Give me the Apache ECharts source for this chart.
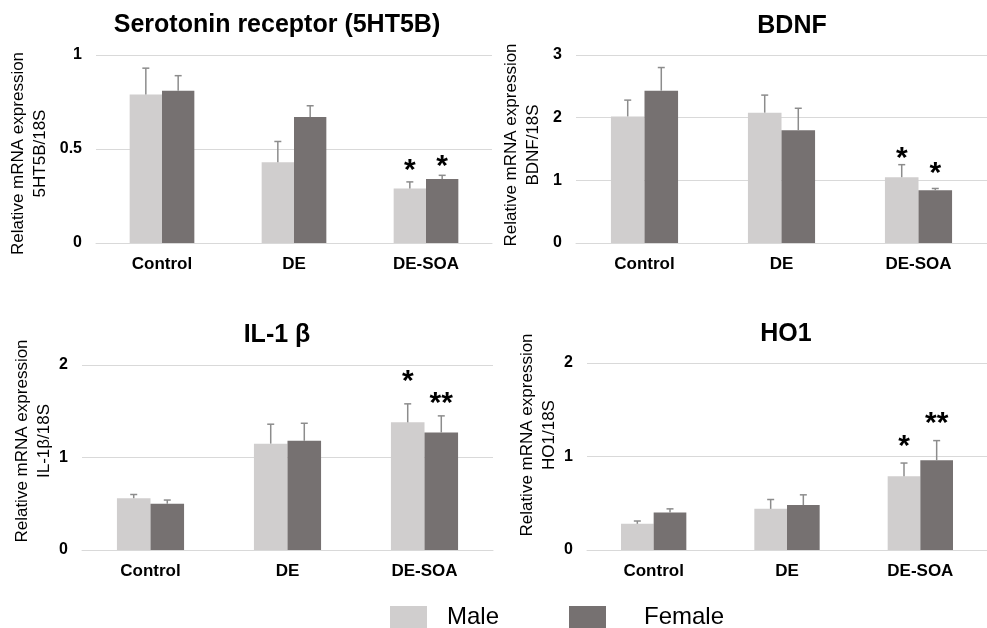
<!DOCTYPE html>
<html>
<head>
<meta charset="utf-8">
<script src="https://cdn.jsdelivr.net/npm/echarts@6/dist/echarts.min.js"></script>
<style>
html,body{margin:0;padding:0;background:#fff;}
#chart{width:987px;height:628px;}
</style>
</head>
<body>
<div id="chart"></div>
<script>
// ---- data ----
var categories = ['Control', 'DE', 'DE-SOA'];
var seriesNames = ['Male', 'Female'];

var titles = ['Serotonin receptor (5HT5B)', 'BDNF', 'IL-1 \u03b2', 'HO1'];
var yNames = [
  'Relative mRNA expression\n5HT5B/18S',
  'Relative mRNA expression\nBDNF/18S',
  'Relative mRNA expression\nIL-1\u03b2/18S',
  'Relative mRNA expression\nHO1/18S'
];
var yMax = [1, 3, 2, 2];
var yInterval = [0.5, 1, 1, 1];

var htMale = [0.79, 0.43, 0.29];
var htFemale = [0.81, 0.67, 0.34];
var htMaleErr = [0.14, 0.11, 0.035];
var htFemaleErr = [0.08, 0.06, 0.02];
var htMaleSig = ['', '', '*'];
var htFemaleSig = ['', '', '*'];
var htMaleSigY = [null, null, 0.42];
var htFemaleSigY = [null, null, 0.443];

var bdnfMale = [2.02, 2.08, 1.05];
var bdnfFemale = [2.43, 1.80, 0.84];
var bdnfMaleErr = [0.26, 0.28, 0.20];
var bdnfFemaleErr = [0.37, 0.35, 0.03];
var bdnfMaleSig = ['', '', '*'];
var bdnfFemaleSig = ['', '', '*'];
var bdnfMaleSigY = [null, null, 1.45];
var bdnfFemaleSigY = [null, null, 1.21];

var ilMale = [0.56, 1.15, 1.38];
var ilFemale = [0.50, 1.18, 1.27];
var ilMaleErr = [0.04, 0.21, 0.20];
var ilFemaleErr = [0.04, 0.19, 0.18];
var ilMaleSig = ['', '', '*'];
var ilFemaleSig = ['', '', '**'];
var ilMaleSigY = [null, null, 1.9];
var ilFemaleSigY = [null, null, 1.66];

var hoMale = [0.28, 0.44, 0.79];
var hoFemale = [0.40, 0.48, 0.96];
var hoMaleErr = [0.03, 0.10, 0.14];
var hoFemaleErr = [0.04, 0.11, 0.21];
var hoMaleSig = ['', '', '*'];
var hoFemaleSig = ['', '', '**'];
var hoMaleSigY = [null, null, 1.18];
var hoFemaleSigY = [null, null, 1.425];

// ---- layout / style ----
var FONT = '"Liberation Sans", Arial, sans-serif';
var COLORS = ['#d0cece', '#767171'];
var ERR_COLOR = '#8c8c8c';
var GAP_RATIO = 0.51;

var panels = [
  {male: htMale, female: htFemale, mErr: htMaleErr, fErr: htFemaleErr, mSig: htMaleSig, fSig: htFemaleSig, mSigY: htMaleSigY, fSigY: htFemaleSigY,
   grid: {left: 96, top: 55, width: 396, height: 188}, title: {x: 277, y: 13}, nameGap: 45, namePad: [0, 9, 0, 0]},
  {male: bdnfMale, female: bdnfFemale, mErr: bdnfMaleErr, fErr: bdnfFemaleErr, mSig: bdnfMaleSig, fSig: bdnfFemaleSig, mSigY: bdnfMaleSigY, fSigY: bdnfFemaleSigY,
   grid: {left: 576, top: 55, width: 413, height: 188}, title: {x: 792, y: 14}, nameGap: 32, namePad: [0, 0, 0, 8]},
  {male: ilMale, female: ilFemale, mErr: ilMaleErr, fErr: ilFemaleErr, mSig: ilMaleSig, fSig: ilFemaleSig, mSigY: ilMaleSigY, fSigY: ilFemaleSigY,
   grid: {left: 82, top: 365, width: 411, height: 185}, title: {x: 277, y: 323}, nameGap: 25, namePad: [0, 0, 0, 33]},
  {male: hoMale, female: hoFemale, mErr: hoMaleErr, fErr: hoFemaleErr, mSig: hoMaleSig, fSig: hoFemaleSig, mSigY: hoMaleSigY, fSigY: hoFemaleSigY,
   grid: {left: 587, top: 363, width: 411, height: 187}, title: {x: 786, y: 322}, nameGap: 25, namePad: [0, 0, 0, 43]}
];

function errRender(side) {
  return function (params, api) {
    var cat = api.value(0), v = api.value(1), e = api.value(2);
    var band = api.size([1, 0])[0];
    var bw = band * (1 - GAP_RATIO) / 2;
    var x = api.coord([cat, 0])[0] + side * bw / 2;
    var y0 = api.coord([cat, v])[1];
    var y1 = api.coord([cat, v + e])[1];
    var st = {stroke: ERR_COLOR, lineWidth: 1.5};
    return {type: 'group', children: [
      {type: 'line', shape: {x1: x, y1: y0, x2: x, y2: y1}, style: st},
      {type: 'line', shape: {x1: x - 3.5, y1: y1, x2: x + 3.5, y2: y1}, style: st}
    ]};
  };
}

function sigRender(side, labels) {
  return function (params, api) {
    var cat = api.value(0), y = api.value(1);
    var band = api.size([1, 0])[0];
    var bw = band * (1 - GAP_RATIO) / 2;
    var x = api.coord([cat, 0])[0] + side * bw / 2;
    var py = api.coord([cat, y])[1];
    return {type: 'text', x: x, y: py + 7, style: {
      text: labels[params.dataIndex], fill: '#000', font: 'bold 30px ' + FONT,
      textAlign: 'center', textVerticalAlign: 'middle'
    }};
  };
}

var option = {
  backgroundColor: '#ffffff',
  animation: false,
  title: [], grid: [], xAxis: [], yAxis: [], series: [],
  legend: [
    {data: ['Male'], left: 390, top: 605, padding: 0, itemWidth: 37, itemHeight: 22, icon: 'rect',
     textStyle: {fontFamily: FONT, fontSize: 24, color: '#000', padding: [0, 0, 0, 15]}},
    {data: ['Female'], left: 569, top: 605, padding: 0, itemWidth: 37, itemHeight: 22, icon: 'rect',
     textStyle: {fontFamily: FONT, fontSize: 24, color: '#000', padding: [0, 0, 0, 33]}}
  ]
};

panels.forEach(function (p, i) {
  option.title.push({text: titles[i], left: p.title.x, top: p.title.y, textAlign: 'center', padding: 0,
    textStyle: {fontFamily: FONT, fontSize: 25, fontWeight: 'bold', color: '#000'}});
  option.grid.push({left: p.grid.left, top: p.grid.top, width: p.grid.width, height: p.grid.height, containLabel: false});
  option.xAxis.push({type: 'category', gridIndex: i, data: categories,
    axisLine: {lineStyle: {color: '#d9d9d9', width: 1}}, axisTick: {show: false},
    axisLabel: {fontFamily: FONT, fontSize: 17, fontWeight: 'bold', color: '#000', margin: 13}});
  option.yAxis.push({type: 'value', gridIndex: i, min: 0, max: yMax[i], interval: yInterval[i],
    name: yNames[i], nameLocation: 'middle', nameRotate: 90, nameGap: p.nameGap,
    nameTextStyle: {fontFamily: FONT, fontSize: 17, color: '#000', lineHeight: 22, padding: p.namePad},
    axisLine: {show: false}, axisTick: {show: false},
    splitLine: {lineStyle: {color: '#d9d9d9', width: 1}},
    axisLabel: {fontFamily: FONT, fontSize: 16, fontWeight: 'bold', color: '#000', margin: 14}});
  var vals = [p.male, p.female], errs = [p.mErr, p.fErr], sigs = [p.mSig, p.fSig], sigYs = [p.mSigY, p.fSigY];
  for (var s = 0; s < 2; s++) {
    option.series.push({type: 'bar', name: seriesNames[s], xAxisIndex: i, yAxisIndex: i,
      data: vals[s], barGap: '0%', barCategoryGap: (GAP_RATIO * 100) + '%',
      itemStyle: {color: COLORS[s]}, z: 2});
  }
  for (var s2 = 0; s2 < 2; s2++) {
    var side = s2 === 0 ? -1 : 1;
    option.series.push({type: 'custom', xAxisIndex: i, yAxisIndex: i, z: 3,
      renderItem: errRender(side),
      data: vals[s2].map(function (v, k) { return [k, v, errs[s2][k]]; })});
    var sigData = [], sigLabels = [];
    sigs[s2].forEach(function (lab, k) {
      if (lab) { sigData.push([k, sigYs[s2][k]]); sigLabels.push(lab); }
    });
    option.series.push({type: 'custom', xAxisIndex: i, yAxisIndex: i, z: 4,
      renderItem: sigRender(side, sigLabels), data: sigData});
  }
});

var chart = echarts.init(document.getElementById('chart'), null, {renderer: 'canvas'});
chart.setOption(option);
</script>
</body>
</html>
